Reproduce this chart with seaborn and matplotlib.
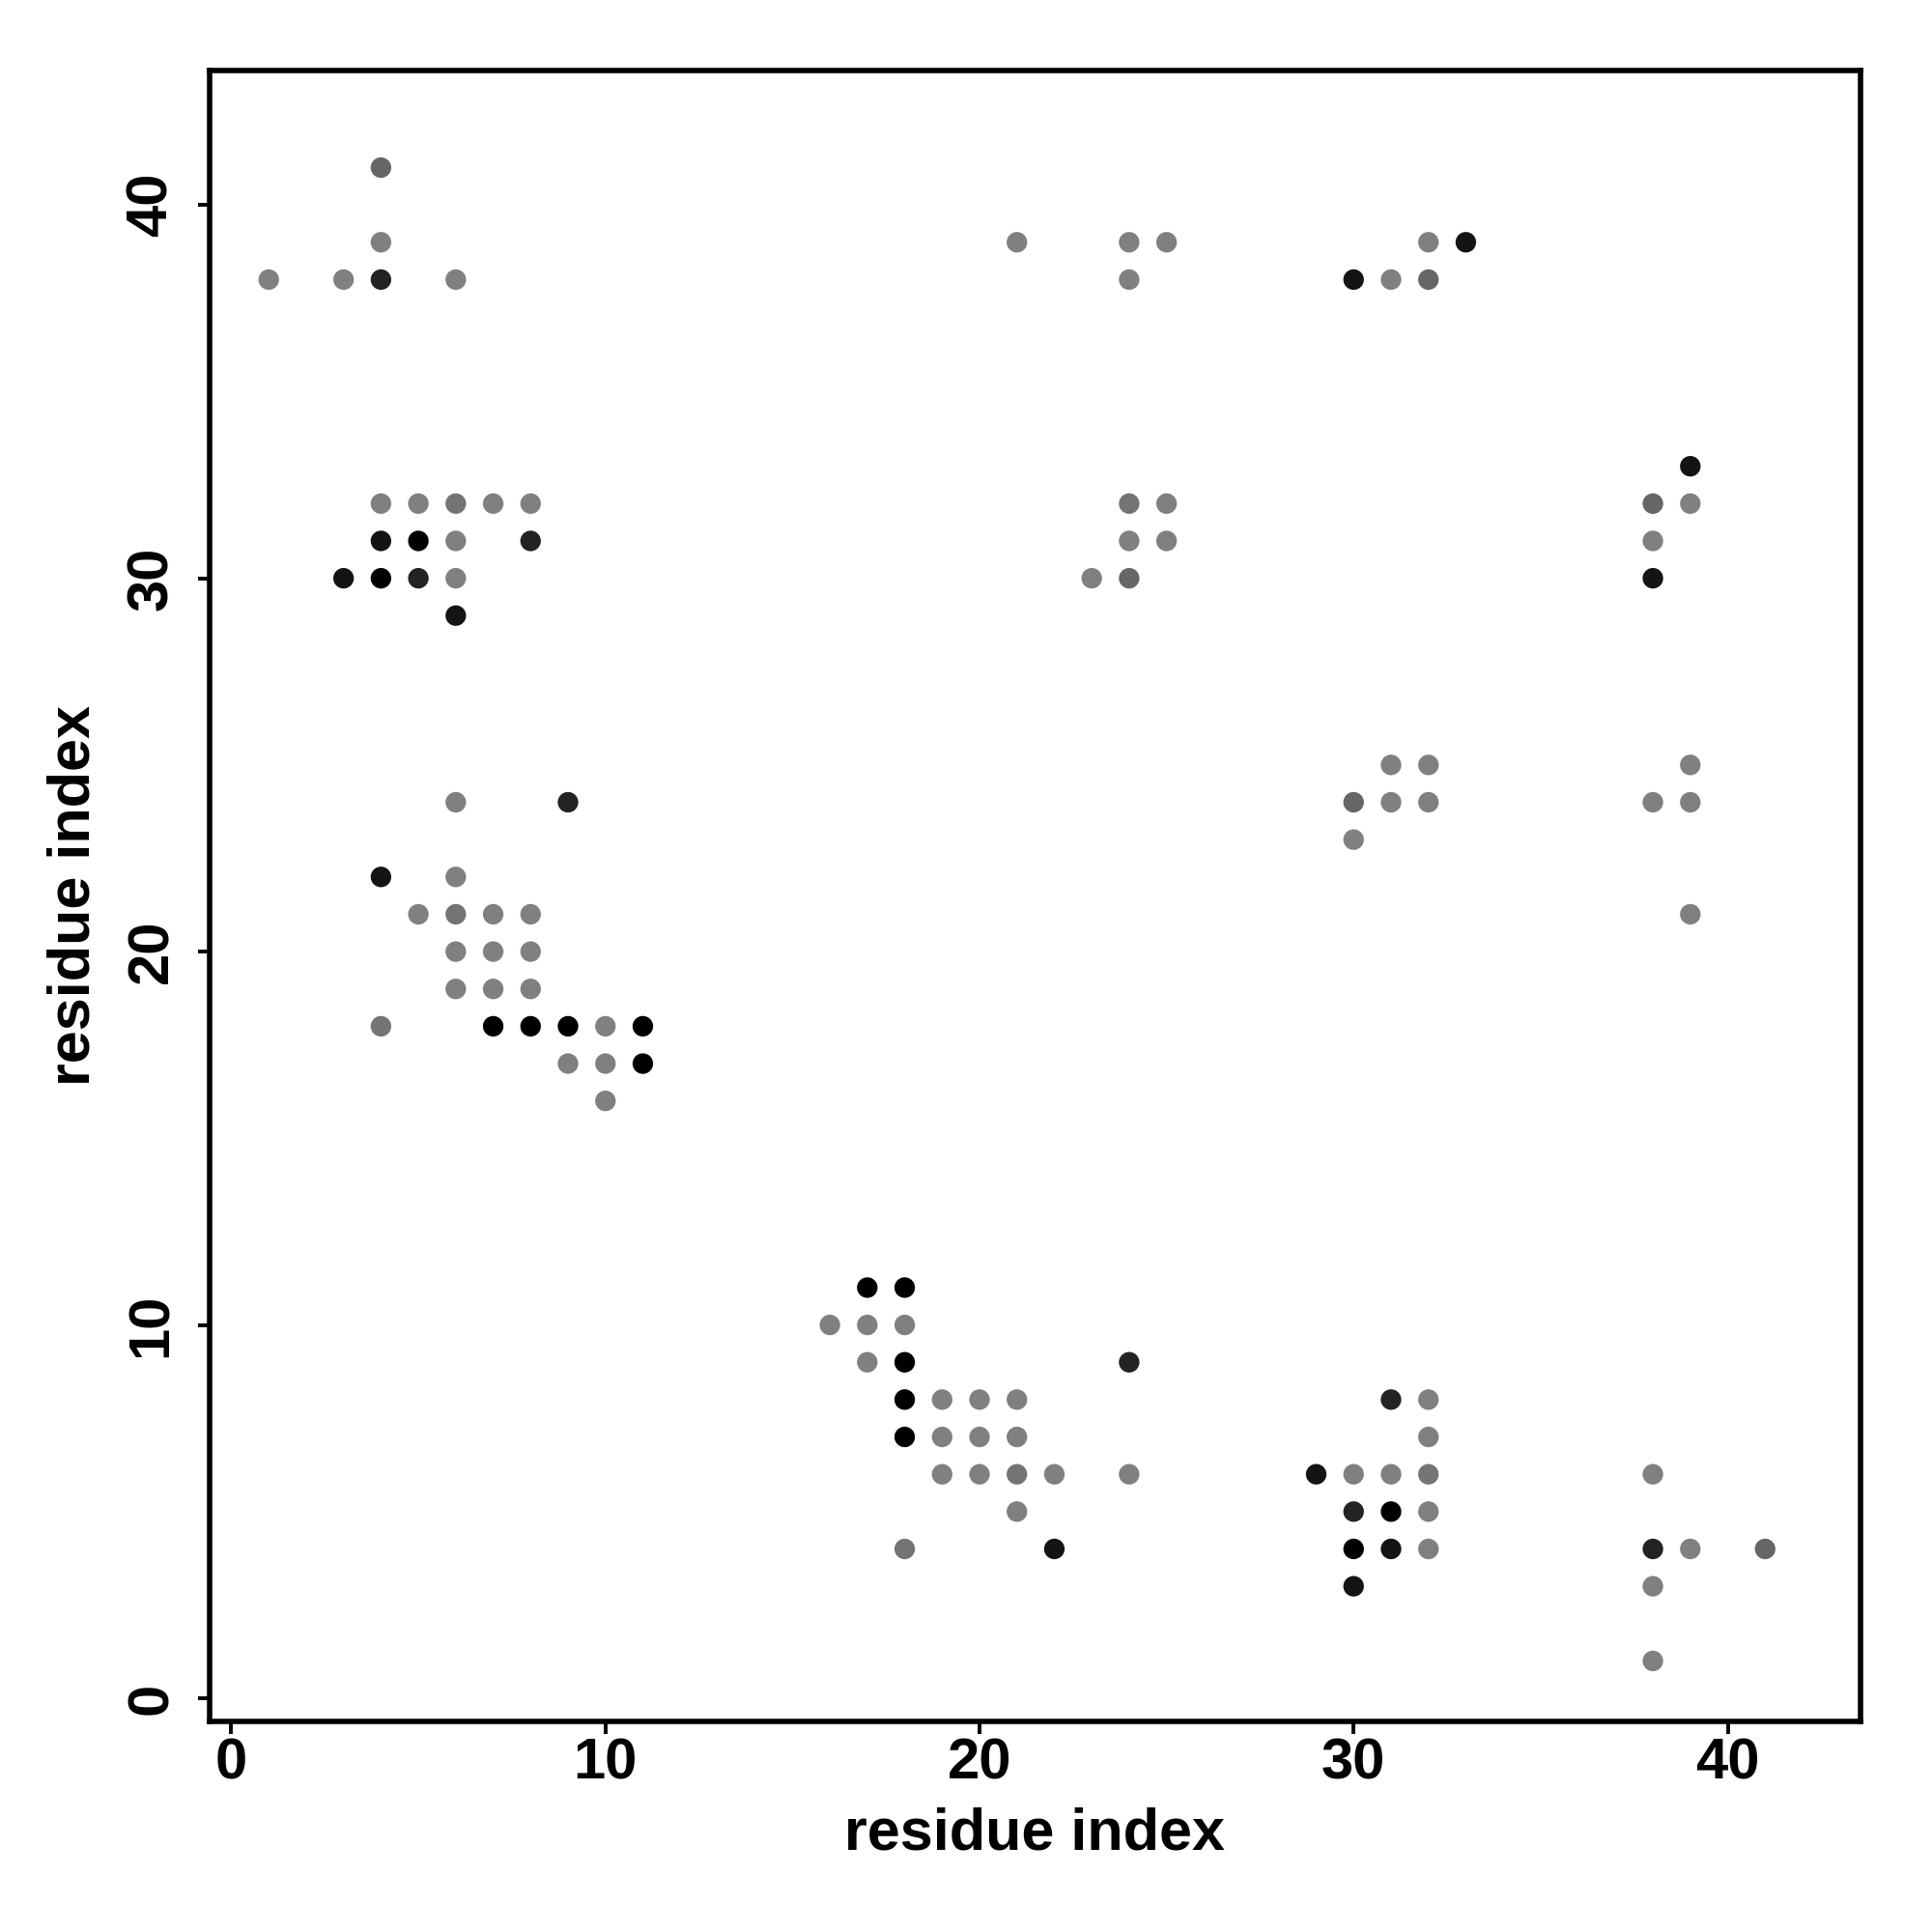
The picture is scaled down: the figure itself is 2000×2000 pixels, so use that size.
import pandas as pd
import seaborn as sns
from matplotlib import pyplot as plt

# contact map points: residue i, residue j, shade level
res_i = [1, 3, 4, 6, 4, 4,
         4, 5, 6, 7, 8, 4, 5, 6, 8, 3, 4, 5, 6, 6,
         6, 9, 4, 6, 5, 6, 7, 8, 6, 7, 8, 6, 7, 8,
         4, 7, 8, 9, 10, 11, 9, 10, 11, 10,
         17, 18, 16, 17, 18, 17, 18, 24,
         18, 19, 20, 21, 18, 19, 20, 21,
         19, 20, 21, 22, 24, 21, 18, 22,
         21, 24, 25, 24, 30, 31, 32, 32, 33,
         24, 25, 24, 25, 23, 24,
         38, 39, 39, 38, 38,
         31, 32, 30, 31, 32, 30,
         39, 38, 39, 39,
         31, 32, 32, 29, 30, 31, 32, 30, 31, 32, 30, 31, 32, 30,
         38, 38, 39, 41, 38, 38]
res_j = [38, 38, 38, 38, 39, 41,
         32, 32, 32, 32, 32, 31, 31, 31, 31, 30, 30, 30, 30, 29,
         24, 24, 22, 22, 21, 21, 21, 21, 20, 20, 20, 19, 19, 19,
         18, 18, 18, 18, 18, 18, 17, 17, 17, 16,
         11, 11, 10, 10, 10, 9, 9, 9,
         8, 8, 8, 8, 7, 7, 7, 7,
         6, 6, 6, 6, 6, 5, 4, 4,
         39, 39, 39, 38, 38, 38, 38, 39, 39,
         32, 32, 31, 31, 30, 30,
         32, 32, 33, 31, 30,
         25, 25, 24, 24, 24, 23,
         25, 24, 24, 21,
         8, 8, 7, 6, 6, 6, 6, 5, 5, 5, 4, 4, 4, 3,
         6, 4, 4, 4, 3, 1]
shade = ["grey", "grey", "dark", "grey", "grey", "mid",
         "grey", "grey", "grey2", "grey", "grey", "near", "black", "grey", "dark",
         "near", "black", "dark", "grey", "near",
         "grey", "dark", "near", "grey", "grey", "grey2", "grey", "grey",
         "grey", "grey", "grey", "grey", "grey", "grey",
         "grey2", "black", "black", "black", "grey", "black", "grey", "grey", "black", "grey",
         "black", "black", "grey", "grey", "grey", "grey", "black", "dark",
         "black", "grey", "grey", "grey", "black", "grey", "grey", "grey",
         "grey", "grey", "grey2", "grey", "grey", "grey", "grey2", "near",
         "grey", "grey", "grey", "grey", "near", "grey", "mid", "grey", "near",
         "grey2", "grey", "grey", "grey", "grey", "mid",
         "mid", "grey", "near", "grey", "near",
         "grey", "grey", "mid", "grey", "grey", "grey",
         "grey", "grey", "grey", "grey",
         "dark", "grey", "grey", "near", "grey", "grey", "grey2",
         "dark", "black", "grey", "black", "near", "grey", "near",
         "grey", "dark", "grey", "mid", "grey", "grey"]

shade_colors = {"black": "#000000", "near": "#141414", "dark": "#232323",
                "mid": "#666666", "grey2": "#747474", "grey": "#808080"}

contacts = pd.DataFrame({"i": res_i, "j": res_j, "shade": shade})

sns.set_style("ticks")
plt.rcParams["font.family"] = ["Liberation Sans", "DejaVu Sans"]
plt.rcParams["font.weight"] = "bold"
plt.rcParams["text.color"] = "black"
plt.rcParams["axes.labelcolor"] = "black"
plt.rcParams["xtick.color"] = "black"
plt.rcParams["ytick.color"] = "black"

fig = plt.figure(figsize=(20, 20), dpi=100)
ax = fig.add_axes([0.1085, 0.109, 0.8545, 0.8545])

sns.scatterplot(data=contacts, x="i", y="j", hue="shade", palette=shade_colors,
                s=235, linewidth=0, legend=False, ax=ax)

ax.set_xlim(-0.58, 43.55)
ax.set_ylim(-0.62, 43.6)
ax.set_xticks([0, 10, 20, 30, 40])
ax.set_yticks([0, 10, 20, 30, 40])

for side in ax.spines.values():
    side.set_linewidth(4)
    side.set_color("black")

ax.tick_params(axis="both", direction="out", length=9, width=2.8,
               colors="black", labelsize=43)
ax.tick_params(axis="x", pad=3)
ax.tick_params(axis="y", pad=14)
for lab in ax.get_yticklabels():
    lab.set_rotation(90)
    lab.set_va("center")
for lab in ax.get_xticklabels() + ax.get_yticklabels():
    lab.set_fontweight("bold")

ax.set_xlabel("residue index", fontsize=44, fontweight="bold", labelpad=12,
              color="black")
ax.set_ylabel("residue index", fontsize=44, fontweight="bold", labelpad=18,
              color="black")

fig.savefig("out.png", dpi=100, facecolor="white")
